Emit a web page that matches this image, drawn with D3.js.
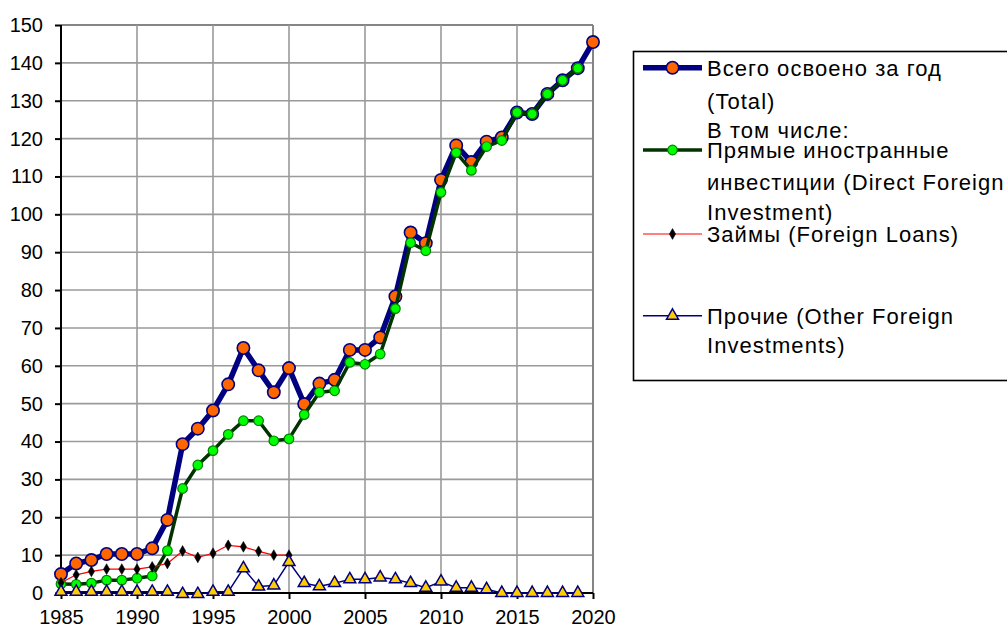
<!DOCTYPE html>
<html>
<head>
<meta charset="utf-8">
<script src="https://cdn.jsdelivr.net/npm/d3@7"></script>
<style>
  html, body { margin: 0; padding: 0; background: #fff; }
  svg { display: block; font-family: "Liberation Sans", Arial, sans-serif; }
</style>
</head>
<body>
<svg id="chart" width="1007" height="628"></svg>
<script>
// ---------- DATA ----------
const years = d3.range(1985, 2021);
const totalVals = [5.0, 7.8, 8.7, 10.3, 10.3, 10.3, 11.8, 19.3, 39.3, 43.4, 48.2, 55.1, 64.7, 58.8, 53.0, 59.4, 49.9, 55.3, 56.3, 64.2, 64.2, 67.5, 78.3, 95.2, 92.4, 109.1, 118.2, 113.8, 119.2, 120.3, 126.9, 126.5, 131.8, 135.4, 138.6, 145.5];
const fdiVals = [2.4, 2.3, 2.6, 3.4, 3.4, 3.9, 4.5, 11.2, 27.6, 33.8, 37.6, 41.9, 45.5, 45.5, 40.2, 40.7, 47.1, 53.0, 53.4, 60.9, 60.4, 63.1, 75.1, 92.5, 90.4, 105.8, 116.3, 111.6, 117.9, 119.5, 126.9, 126.5, 131.8, 135.4, 138.6, null];
const loanVals = [2.7, 4.8, 5.7, 6.3, 6.3, 6.3, 6.9, 7.8, 11.1, 9.4, 10.5, 12.6, 12.2, 11.0, 10.0, 10.0, null, null, null, null, null, null, null, null, null, null, null, null, null, null, null, null, null, null, null, null];
const otherVals = [0.3, 0.3, 0.3, 0.3, 0.3, 0.3, 0.3, 0.3, -0.3, -0.3, 0.3, 0.3, 6.5, 1.7, 2.0, 8.2, 2.6, 1.8, 2.6, 3.6, 3.6, 4.1, 3.6, 2.6, 1.4, 3.0, 1.4, 1.4, 1.0, 0.0, 0.0, 0.0, 0.0, 0.0, 0.0, null];
const yTicks = [0, 10, 20, 30, 40, 50, 60, 70, 80, 90, 100, 110, 120, 130, 140, 150];
const xTicks = [1985, 1990, 1995, 2000, 2005, 2010, 2015, 2020];
const legendLabels = [
  ["Всего освоено за год", "(Total)", "В том числе:"],
  ["Прямые иностранные", "инвестиции (Direct Foreign", "Investment)"],
  ["Займы (Foreign Loans)"],
  ["Прочие (Other Foreign", "Investments)"]
];

// ---------- LAYOUT ----------
const svg = d3.select("#chart");
const pL = 61, pR = 593, pT = 25, pB = 593;
const x = d3.scaleLinear().domain([1985, 2020]).range([pL, pR]);
const y = d3.scaleLinear().domain([0, 150]).range([pB, pT]);

// grid
const g = svg.append("g");
g.selectAll(".hg").data(yTicks.filter(v => v > 0)).enter().append("line")
  .attr("x1", pL).attr("x2", pR)
  .attr("y1", d => y(d)).attr("y2", d => y(d))
  .attr("stroke", d => d === 150 ? "#858585" : "#9a9a9a").attr("stroke-width", d => d === 150 ? 2 : 1.6);
g.selectAll(".vg").data(xTicks.filter(v => v > 1985)).enter().append("line")
  .attr("y1", pT).attr("y2", pB)
  .attr("x1", d => x(d)).attr("x2", d => x(d))
  .attr("stroke", d => d === 2020 ? "#858585" : "#9a9a9a").attr("stroke-width", d => d === 2020 ? 2 : 1.6);

// axes
const yAxis = d3.axisLeft(y).tickValues(yTicks).tickSize(6).tickPadding(12).tickFormat(d3.format("d"));
const xAxis = d3.axisBottom(x).tickValues(xTicks).tickSize(6).tickPadding(11).tickFormat(d3.format("d"));
const ya = svg.append("g").attr("transform", `translate(${pL},0)`).call(yAxis);
const xa = svg.append("g").attr("transform", `translate(0,${pB})`).call(xAxis);
[ya, xa].forEach(a => {
  a.attr("font-size", null).attr("font-family", null);
  a.select(".domain").attr("stroke", "#000").attr("stroke-width", 2);
  a.selectAll(".tick line").attr("stroke", "#000").attr("stroke-width", 2);
  a.selectAll("text").style("font-size", "20px").attr("fill", "#000")
    .style("font-family", "'Liberation Sans', Arial, sans-serif");
});
ya.select(".domain").attr("d", `M0,${pT}V${pB}`);
xa.select(".domain").attr("d", `M${pL},0H${pR}`);

// series
function pts(vals) { return years.map((yr, i) => ({ yr, v: vals[i] })).filter(d => d.v !== null); }
const line = d3.line().x(d => x(d.yr)).y(d => y(d.v));

const series = [
  { vals: totalVals, stroke: "#000080", width: 5.5, sym: d3.symbolCircle, size: 120, fill: "#ff6600", mstroke: "#000080", mw: 1.6 },
  { vals: fdiVals, stroke: "#003300", width: 3.5, sym: d3.symbolCircle, size: 72, fill: "#00ff00", mstroke: "#008000", mw: 1.2 },
  { vals: loanVals, stroke: "#ff0000", width: 1.2, sym: d3.symbolDiamond, size: 34, fill: "#000000", mstroke: "#000000", mw: 0.5 },
  { vals: otherVals, stroke: "#000080", width: 1.5, sym: d3.symbolTriangle, size: 62, fill: "#ffcc00", mstroke: "#000080", mw: 1.5 }
];

series.forEach(s => {
  const data = pts(s.vals);
  const sg = svg.append("g");
  sg.append("path").datum(data).attr("d", line)
    .attr("fill", "none").attr("stroke", s.stroke).attr("stroke-width", s.width)
    .attr("stroke-linejoin", "round");
  sg.selectAll("path.m").data(data).enter().append("path").attr("class", "m")
    .attr("transform", d => `translate(${x(d.yr)},${y(d.v)})`)
    .attr("d", d3.symbol().type(s.sym).size(s.size))
    .attr("fill", s.fill).attr("stroke", s.mstroke).attr("stroke-width", s.mw);
});

// legend
const lg = svg.append("g");
lg.append("rect").attr("x", 633.5).attr("y", 51.5).attr("width", 390).attr("height", 329)
  .attr("fill", "#fff").attr("stroke", "#000").attr("stroke-width", 1.6);

const symY = [67.7, 150, 234, 315.7];
const textCenters = [[67.7, 100.7, 130], [150, 181.7, 211.7], [234], [315.7, 345]];
series.forEach((s, i) => {
  lg.append("line").attr("x1", 643).attr("x2", 702).attr("y1", symY[i]).attr("y2", symY[i])
    .attr("stroke", s.stroke).attr("stroke-width", s.width);
  lg.append("path").attr("transform", `translate(672.5,${symY[i]})`)
    .attr("d", d3.symbol().type(s.sym).size(s.size))
    .attr("fill", s.fill).attr("stroke", s.mstroke).attr("stroke-width", s.mw);
  legendLabels[i].forEach((t, j) => {
    lg.append("text").attr("x", 707).attr("y", textCenters[i][j] + 8)
      .style("font-size", "22px").style("letter-spacing", "1.05px").attr("fill", "#000").text(t);
  });
});
</script>
</body>
</html>
